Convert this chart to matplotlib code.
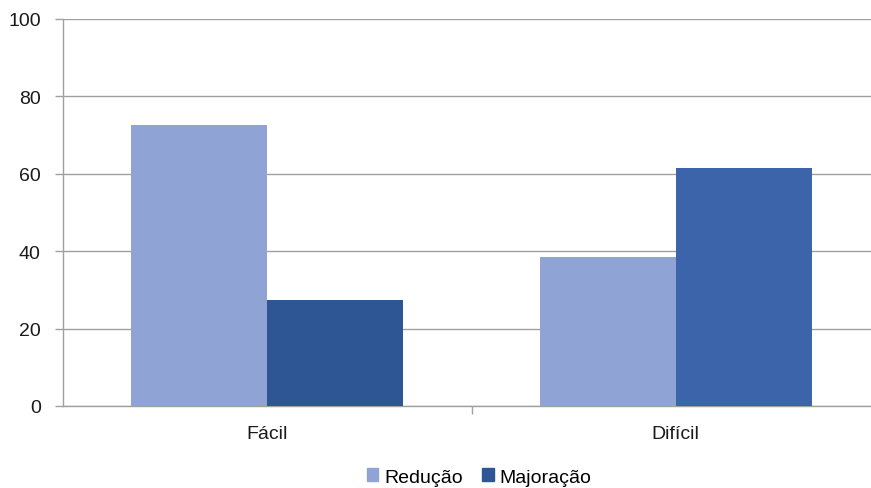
import matplotlib
matplotlib.use("Agg")
import matplotlib.pyplot as plt
from matplotlib.patches import Patch
import numpy as np

categories = ["Fácil", "Difícil"]
series_names = ["Redução", "Majoração"]
reducao = [72.6, 38.5]
majoracao = [27.4, 61.5]
y_ticks = [0, 20, 40, 60, 80, 100]

plt.rcParams["font.family"] = ["Liberation Sans", "DejaVu Sans"]

W, H = 871, 489
fig = plt.figure(figsize=(W / 100, H / 100), dpi=100)
ax = fig.add_axes([63 / W, 1 - 407 / H, 817 / W, 387 / H])

light = "#8fa4d4"
dark_colors = ["#2e5594", "#3c64aa"]
grid_c = "#a0a0a0"
text_c = "#1a1a1a"

x = np.arange(len(categories))
bw = 1 / 3
ax.bar(x - bw / 2, reducao, width=bw, color=light, zorder=3)
ax.bar(x + bw / 2, majoracao, width=bw, color=dark_colors, zorder=3)

ax.set_xlim(-0.5, 1.5)
ax.set_ylim(0, 100)
ax.set_yticks(y_ticks)
ax.set_xticks(x)
ax.set_xticklabels(categories)
ax.tick_params(axis="x", length=0, pad=14, labelsize=14, labelcolor=text_c)
ax.tick_params(axis="y", length=6, width=1, color=grid_c, pad=10,
               labelsize=14, labelcolor=text_c)
# category separator tick
ax.set_xticks([0.5], minor=True)
ax.tick_params(axis="x", which="minor", length=6, width=1, color=grid_c)

ax.yaxis.grid(True, color=grid_c, linewidth=1, zorder=0)
for side in ["top", "right"]:
    ax.spines[side].set_visible(False)
for side in ["left", "bottom"]:
    ax.spines[side].set_color(grid_c)
    ax.spines[side].set_linewidth(1)

handles = [Patch(color=light), Patch(color=dark_colors[0])]
fig.legend(handles, series_names, loc="center", bbox_to_anchor=(479 / W, 1 - 478 / H),
           ncol=2, frameon=False, fontsize=14, handlelength=0.6, handleheight=0.6,
           handletextpad=0.3, columnspacing=1.0)

fig.savefig("out.png", dpi=100)
